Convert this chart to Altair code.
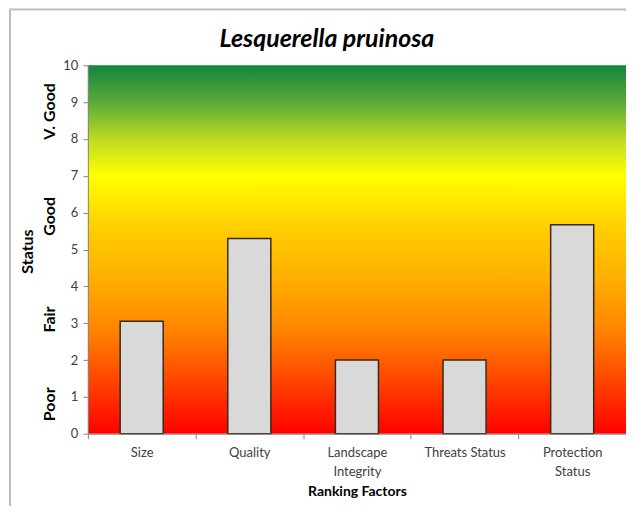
import altair as alt
import pandas as pd

factors = ["Size", "Quality", "Landscape Integrity", "Threats Status", "Protection Status"]
values = [3.05, 5.3, 2.0, 2.0, 5.67]

status_labels = ["Poor", "Fair", "Good", "V. Good"]
status_pos = [0.8, 3.1, 5.9, 8.75]

y_ticks = list(range(0, 11))

chart_title = "Lesquerella pruinosa"

FONT = "Lato"

df = pd.DataFrame({"factor": factors, "value": values})
sdf = pd.DataFrame({"label": status_labels, "pos": status_pos})
one = pd.DataFrame({"t": [chart_title]})

W, H = 539, 369

y_axis = alt.Axis(
    values=y_ticks, title="Status", grid=False, zindex=2,
    labelOverlap=False, labelFlush=False,
    labelFont=FONT, labelFontSize=13, labelColor="#404040", labelPadding=5,
    titleFont=FONT, titleFontSize=16, titleFontWeight="bold", titleColor="#000000",
    titleAngle=270, titleX=-60, titleY=186, titleAlign="center", titleBaseline="middle",
    domainColor="#868686", tickColor="#868686", tickSize=5,
)
y_scale = alt.Scale(domain=[0, 10])

border = alt.Chart(one).mark_rect(
    fillOpacity=0, stroke="#BDBDBD", strokeWidth=2, clip=False
).encode(
    x=alt.value(-78), x2=alt.value(W + 60), y=alt.value(-56), y2=alt.value(H + 120)
)

gradient = alt.Chart(one).mark_rect(
    fill=alt.LinearGradient(
        gradient="linear", x1=0, x2=0, y1=1, y2=0,
        stops=[
            alt.GradientStop(offset=0.0, color="#FF0000"),
            alt.GradientStop(offset=0.12, color="#FF3A00"),
            alt.GradientStop(offset=0.28, color="#FF8400"),
            alt.GradientStop(offset=0.42, color="#FFAE00"),
            alt.GradientStop(offset=0.55, color="#FFCC00"),
            alt.GradientStop(offset=0.7, color="#FFFF00"),
            alt.GradientStop(offset=0.8, color="#BCDA22"),
            alt.GradientStop(offset=0.9, color="#5AAA38"),
            alt.GradientStop(offset=1.0, color="#138540"),
        ],
    )
).encode(
    x=alt.value(0), x2=alt.value("width"), y=alt.value(0), y2=alt.value("height")
)

title_text = alt.Chart(one).mark_text(
    font=FONT, fontSize=25, fontWeight="bold", fontStyle="italic", color="#000000",
    align="center", baseline="alphabetic", clip=False
).encode(
    x=alt.value(W / 2 - 30), y=alt.value(-18), text="t:N"
)

bars = alt.Chart(df).mark_bar(
    width=alt.RelativeBandSize(0.4), fill="#D9D9D9", stroke="#3A2A18", strokeWidth=1.5
).encode(
    x=alt.X(
        "factor:N", sort=factors,
        scale=alt.Scale(paddingInner=0, paddingOuter=0),
        axis=alt.Axis(
            title="Ranking Factors", labelAngle=0, tickBand="extent", zindex=2,
            labelExpr="datum.label == 'Landscape Integrity' || datum.label == 'Protection Status' ? split(datum.label, ' ') : datum.label",
            labelFont=FONT, labelFontSize=13, labelColor="#404040", labelPadding=8,
            labelLineHeight=19,
            titleFont=FONT, titleFontSize=14, titleFontWeight="bold", titleColor="#000000",
            titlePadding=6,
            domainColor="#868686", tickColor="#868686", tickSize=5,
        ),
    ),
    y=alt.Y("value:Q", scale=y_scale, axis=y_axis),
)

status_text = alt.Chart(sdf).mark_text(
    angle=270, font=FONT, fontSize=16, fontWeight="bold", color="#000000",
    align="center", baseline="middle", clip=False
).encode(
    x=alt.value(-38),
    y=alt.Y("pos:Q", scale=y_scale, axis=y_axis),
    text="label:N",
)

chart = alt.layer(border, gradient, bars, status_text, title_text).properties(
    width=W, height=H,
    autosize=alt.AutoSizeParams(type="none"),
    padding={"left": 80, "top": 57, "right": 0, "bottom": 72},
).configure_view(stroke=None)

chart.save("out.html", embed_options={"renderer": "svg", "actions": False})
